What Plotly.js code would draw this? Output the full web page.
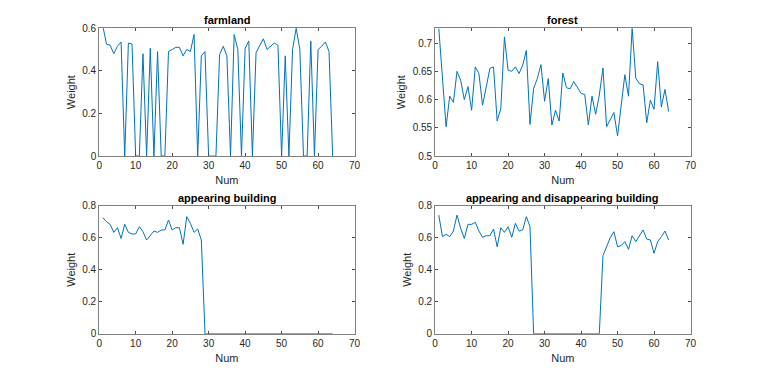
<!DOCTYPE html>
<html>
<head>
<meta charset="utf-8">
<script src="https://cdn.plot.ly/plotly-3.0.1.min.js"></script>
<style>
  html, body { margin: 0; padding: 0; background: #fff; }
  #chart { width: 763px; height: 375px; }
</style>
</head>
<body>
<div id="chart"></div>
<script>
// sample index shared by all four panels
var num = [1,2,3,4,5,6,7,8,9,10,11,12,13,14,15,16,17,18,19,20,21,22,23,24,25,26,27,28,29,30,31,32,
           33,34,35,36,37,38,39,40,41,42,43,44,45,46,47,48,49,50,51,52,53,54,55,56,57,58,59,60,61,62,63,64];

// weights
var farmland = [0.61,0.525,0.52,0.48,0.515,0.535,0,0.53,0.525,0,0,0.48,0,0.505,0,0.49,
                0,0,0.49,0.5,0.51,0.51,0.47,0.5,0.49,0.57,0,0.47,0.49,0,0,0,
                0.475,0.515,0.47,0,0.57,0.5,0,0.505,0.54,0,0.485,0.52,0.55,0.5,0.515,0.53,
                0.52,0,0.47,0,0.5,0.6,0.5,0,0,0.54,0,0.5,0.515,0.535,0.49,0];

var forest = [0.726,0.64,0.552,0.606,0.595,0.650,0.634,0.600,0.623,0.581,
              0.658,0.646,0.590,0.622,0.655,0.658,0.562,0.584,0.711,0.652,
              0.650,0.658,0.646,0.661,0.687,0.556,0.620,0.637,0.662,0.597,
              0.637,0.555,0.581,0.562,0.647,0.621,0.619,0.632,0.621,0.611,
              0.609,0.555,0.606,0.574,0.608,0.656,0.552,0.566,0.577,0.536,
              0.595,0.644,0.606,0.726,0.638,0.628,0.626,0.559,0.599,0.583,
              0.667,0.587,0.618,0.579];

var appearing = [0.726,0.701,0.684,0.634,0.663,0.596,0.684,0.634,0.624,0.624,
                 0.669,0.638,0.586,0.617,0.642,0.634,0.649,0.649,0.711,0.649,
                 0.663,0.663,0.559,0.732,0.690,0.634,0.655,0.586,
                 0,0,0,0,0,0,0,0,0,0,0,0,0,0,0,0,0,0,0,0,0,0,0,0,0,0,0,0,0,0,0,0,0,0,0,0];

var appearDisappear = [0.742,0.607,0.622,0.607,0.642,0.742,0.659,0.596,0.684,0.684,
                       0.697,0.642,0.603,0.613,0.613,0.655,0.544,0.663,0.634,0.669,
                       0.603,0.690,0.642,0.649,0.732,0.669,
                       0,0,0,0,0,0,0,0,0,0,0,0,0,0,0,0,0,0,0,
                       0.488,0.551,0.601,0.638,0.544,0.551,0.576,0.528,0.613,0.576,
                       0.613,0.649,0.592,0.586,0.503,0.576,0.607,0.642,0.586];

var panelTitles = ["farmland", "forest", "appearing building", "appearing and disappearing building"];

var lineStyle = {color: "#0072BD", width: 1};

var data = [
  {x: num, y: farmland, xaxis: "x", yaxis: "y", type: "scatter", mode: "lines", line: lineStyle},
  {x: num, y: forest, xaxis: "x2", yaxis: "y2", type: "scatter", mode: "lines", line: lineStyle},
  {x: num, y: appearing, xaxis: "x3", yaxis: "y3", type: "scatter", mode: "lines", line: lineStyle},
  {x: num, y: appearDisappear, xaxis: "x4", yaxis: "y4", type: "scatter", mode: "lines", line: lineStyle}
];

var font = {family: "Liberation Sans, Arial, sans-serif", size: 10, color: "#262626"};

function xAxis(domain, anchor) {
  return {
    domain: domain, anchor: anchor, range: [0, 70], dtick: 10,
    showline: true, linecolor: "#808080", linewidth: 1, mirror: "ticks",
    ticks: "inside", ticklen: 3, tickcolor: "#4d4d4d", showgrid: false, zeroline: false,
    tickfont: font,
    title: {text: "Num", font: {family: font.family, size: 11, color: "#262626"}, standoff: 6}
  };
}

function yAxis(domain, anchor, range, dtick, fmt) {
  return {
    domain: domain, anchor: anchor, range: range, dtick: dtick, tickformat: fmt,
    showline: true, linecolor: "#808080", linewidth: 1, mirror: "ticks",
    ticks: "inside", ticklen: 3, tickcolor: "#4d4d4d", showgrid: false, zeroline: false,
    tickfont: font,
    title: {text: "Weight", font: {family: font.family, size: 11, color: "#262626"}, standoff: 4}
  };
}

var colL = [0.13, 0.4647], colR = [0.5703, 0.905];
var rowT = [0.5838, 0.925], rowB = [0.11, 0.4512];

var annotations = panelTitles.map(function (t, i) {
  var col = (i % 2 === 0) ? colL : colR;
  var row = (i < 2) ? rowT : rowB;
  return {
    text: "<b>" + t + "</b>", xref: "paper", yref: "paper",
    x: (col[0] + col[1]) / 2, y: row[1], xanchor: "center", yanchor: "bottom",
    yshift: 0, showarrow: false,
    font: {family: font.family, size: 11, color: "#000"}
  };
});

var layout = {
  width: 763, height: 375,
  margin: {l: 0, r: 0, t: 0, b: 0},
  paper_bgcolor: "#fff", plot_bgcolor: "#fff",
  showlegend: false,
  font: font,
  xaxis: xAxis(colL, "y"),
  yaxis: yAxis(rowT, "x", [0, 0.6], 0.2, ".1~f"),
  xaxis2: xAxis(colR, "y2"),
  yaxis2: yAxis(rowT, "x2", [0.5, 0.7265], 0.05, ".2~f"),
  xaxis3: xAxis(colL, "y3"),
  yaxis3: yAxis(rowB, "x3", [0, 0.8], 0.2, ".1~f"),
  xaxis4: xAxis(colR, "y4"),
  yaxis4: yAxis(rowB, "x4", [0, 0.8], 0.2, ".1~f"),
  annotations: annotations
};

Plotly.newPlot("chart", data, layout, {displayModeBar: false, staticPlot: true});
</script>
</body>
</html>
